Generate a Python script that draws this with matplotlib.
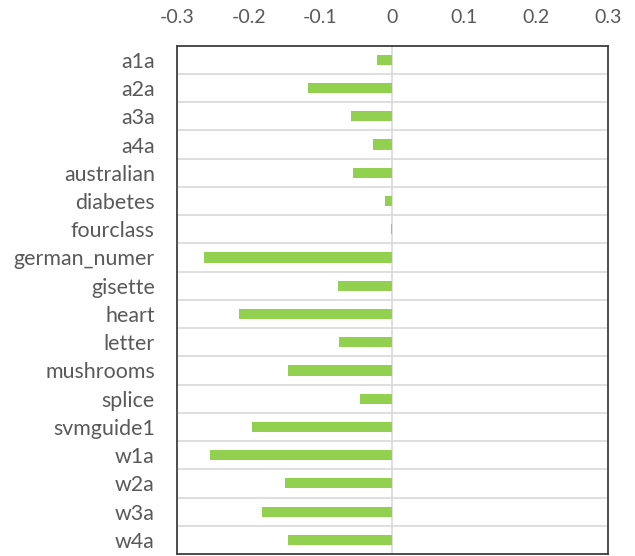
import matplotlib
matplotlib.use('Agg')
import matplotlib.pyplot as plt
import numpy as np

## dataset change values
datasets = ['a1a', 'a2a', 'a3a', 'a4a', 'australian', 'diabetes', 'fourclass',
            'german_numer', 'gisette', 'heart', 'letter', 'mushrooms', 'splice',
            'svmguide1', 'w1a', 'w2a', 'w3a', 'w4a']
change = [-0.021, -0.117, -0.057, -0.027, -0.055, -0.010, -0.002,
          -0.262, -0.076, -0.213, -0.074, -0.145, -0.045,
          -0.196, -0.254, -0.150, -0.181, -0.145]
xticks = [-0.3, -0.2, -0.1, 0, 0.1, 0.2, 0.3]

plt.rcParams['font.family'] = ['Lato', 'DejaVu Sans']

fig = plt.figure(figsize=(6.35, 5.56), dpi=100)
ax = fig.add_axes([0.2787, 0.0036, 0.6783, 0.9142])

y = np.arange(len(datasets))
ax.barh(y, change, height=0.36, color='#92D050', zorder=3)

ax.set_xlim(-0.3, 0.3)
ax.set_ylim(len(datasets) - 0.5, -0.5)

# category separators
ax.set_yticks(y)
ax.set_yticklabels(datasets)
ax.set_yticks(np.arange(len(datasets) + 1) - 0.5, minor=True)
ax.grid(which='minor', axis='y', color='#D9D9D9', linewidth=1.2, zorder=0)
ax.axvline(0, color='#D9D9D9', linewidth=1.2, zorder=2)

ax.set_xticks(xticks)
ax.set_xticklabels([('%g' % t) for t in xticks])
ax.xaxis.tick_top()
ax.tick_params(axis='x', length=0, pad=14, labelsize=14, labelcolor='#595959')
ax.tick_params(axis='y', which='both', length=0, pad=16, labelsize=15.4, labelcolor='#595959')

for s in ax.spines.values():
    s.set_color('#404040')
    s.set_linewidth(1.3)

fig.savefig('out.png', dpi=100)
